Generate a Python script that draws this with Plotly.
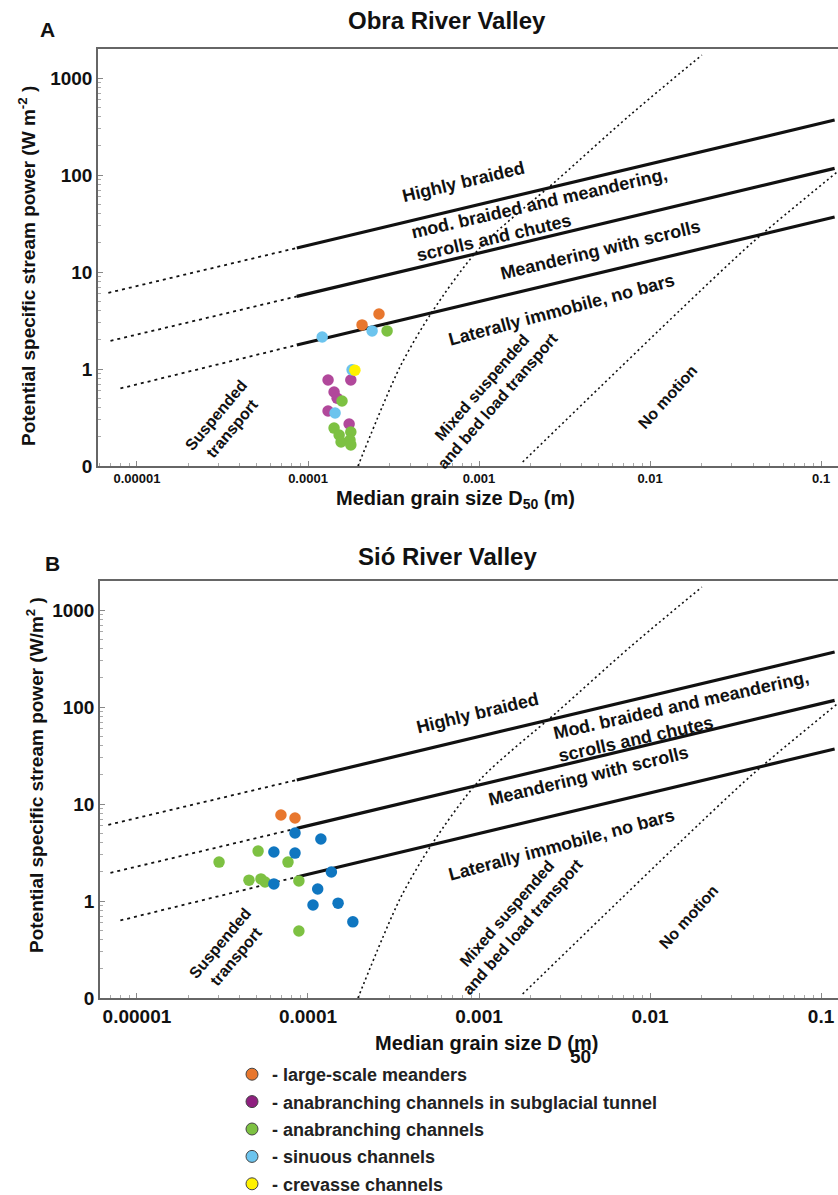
import plotly.graph_objects as go

# ---------------- data ----------------
# Panel A - Obra River Valley: median grain size D50 (m), stream power (W m-2)
OBRA_MEANDER_D = [2.07e-4, 2.60e-4]
OBRA_MEANDER_W = [2.85, 3.69]
OBRA_TUNNEL_D = [1.31e-4, 1.78e-4, 1.42e-4, 1.48e-4, 1.31e-4, 1.74e-4]
OBRA_TUNNEL_W = [0.77, 0.77, 0.58, 0.50, 0.369, 0.271]
OBRA_ANAB_D = [2.90e-4, 1.58e-4, 1.42e-4, 1.52e-4, 1.78e-4, 1.56e-4, 1.76e-4, 1.78e-4]
OBRA_ANAB_W = [2.47, 0.468, 0.246, 0.209, 0.224, 0.177, 0.185, 0.165]
OBRA_SINU_D = [1.21e-4, 2.37e-4, 1.81e-4, 1.44e-4]
OBRA_SINU_W = [2.14, 2.47, 0.98, 0.352]
OBRA_CREV_D = [1.88e-4]
OBRA_CREV_W = [0.97]

# Panel B - Sió River Valley
SIO_MEANDER_D = [6.95e-5, 8.40e-5]
SIO_MEANDER_W = [7.71, 7.18]
SIO_ANAB_D = [3.02e-5, 5.11e-5, 7.64e-5, 4.52e-5, 5.31e-5, 5.61e-5, 8.85e-5, 8.85e-5]
SIO_ANAB_W = [2.52, 3.27, 2.52, 1.64, 1.69, 1.57, 1.61, 0.49]
SIO_CHAN_D = [8.40e-5, 1.19e-4, 6.32e-5, 8.40e-5, 6.32e-5, 1.37e-4, 1.14e-4, 1.07e-4, 1.50e-4, 1.83e-4]
SIO_CHAN_W = [5.02, 4.36, 3.20, 3.12, 1.50, 1.99, 1.33, 0.91, 0.95, 0.61]

# Threshold lines: points [dotted start, solid start, solid end]
BRAID_D = [6.8e-6, 8.6e-5, 0.12]
BRAID_W = [6.1, 17.7, 369]
MOD_D = [7.0e-6, 8.6e-5, 0.12]
MOD_W = [1.95, 5.6, 117]
LOW_D = [8.0e-6, 8.6e-5, 0.12]
LOW_W = [0.63, 1.77, 36.9]

# Transport-mode boundaries
SUSP_D = [1.96e-4, 3.45e-4, 5.31e-4, 1.01e-3, 2.86e-3, 7.64e-3, 0.0201]
SUSP_W = [0.1, 1.05, 3.87, 17.7, 88.8, 415, 1726]
MOTION_D = [1.8e-3, 5.1e-3, 0.0150, 0.040, 0.124]
MOTION_W = [0.11, 0.65, 4.05, 20.4, 107]

Y_TICKS = [0.1, 1, 10, 100, 1000]
Y_TICKTEXT = ["0", "1", "10", "100", "1000"]
X_TICKS = [0.00001, 0.0001, 0.001, 0.01, 0.1]
X_TICKTEXT = ["0.00001", "0.0001", "0.001", "0.01", "0.1"]

LEGEND_NAMES = ["- large-scale meanders",
                "- anabranching channels in subglacial tunnel",
                "- anabranching channels",
                "- sinuous channels",
                "- crevasse channels"]
LEGEND_COLORS = ["#E8772E", "#8E1F7F", "#7DC142", "#6CC4EE", "#FFF200"]

# ---------------- styling ----------------
W, H = 838, 1195
FONT = "Liberation Sans, Arial, sans-serif"
ORANGE, MAGENTA, GREEN, LBLUE, YELLOW, DBLUE = "#E8772E", "#B1489B", "#7DC142", "#6CC4EE", "#FFF200", "#0F76C0"


def px(x):
    return x / W


def py(y):
    return 1 - y / H


fig = go.Figure()


def add_lines(xa, ya):
    for d, w in [(BRAID_D, BRAID_W), (MOD_D, MOD_W), (LOW_D, LOW_W)]:
        fig.add_trace(go.Scatter(x=d[:2], y=w[:2], mode="lines", xaxis=xa, yaxis=ya,
                                 line=dict(color="#111", width=1.8, dash="3px,4px"),
                                 showlegend=False, hoverinfo="skip"))
        fig.add_trace(go.Scatter(x=d[1:], y=w[1:], mode="lines", xaxis=xa, yaxis=ya,
                                 line=dict(color="#111", width=3.2),
                                 showlegend=False, hoverinfo="skip"))
    for d, w in [(SUSP_D, SUSP_W), (MOTION_D, MOTION_W)]:
        fig.add_trace(go.Scatter(x=d, y=w, mode="lines", xaxis=xa, yaxis=ya,
                                 line=dict(color="#111", width=1.6, dash="2px,3px", shape="spline",
                                           smoothing=0.8),
                                 showlegend=False, hoverinfo="skip"))


def add_pts(d, w, color, xa, ya):
    fig.add_trace(go.Scatter(x=d, y=w, mode="markers", xaxis=xa, yaxis=ya,
                             marker=dict(size=11.5, color=color, line=dict(width=0)),
                             showlegend=False))


add_lines("x", "y")
add_pts(OBRA_TUNNEL_D, OBRA_TUNNEL_W, MAGENTA, "x", "y")
add_pts(OBRA_ANAB_D, OBRA_ANAB_W, GREEN, "x", "y")
add_pts(OBRA_MEANDER_D, OBRA_MEANDER_W, ORANGE, "x", "y")
add_pts(OBRA_SINU_D, OBRA_SINU_W, LBLUE, "x", "y")
add_pts(OBRA_CREV_D, OBRA_CREV_W, YELLOW, "x", "y")

add_lines("x2", "y2")
add_pts(SIO_ANAB_D, SIO_ANAB_W, GREEN, "x2", "y2")
add_pts(SIO_CHAN_D, SIO_CHAN_W, DBLUE, "x2", "y2")
add_pts(SIO_MEANDER_D, SIO_MEANDER_W, ORANGE, "x2", "y2")

# legend entries
for i, (name, col) in enumerate(zip(LEGEND_NAMES, LEGEND_COLORS)):
    fig.add_trace(go.Scatter(x=[None], y=[None], mode="markers", name=name,
                             legendgroup=f"g{i}",
                             marker=dict(size=12, color=col, line=dict(width=1, color="#444"))))

minor_x = [m * 10 ** e for e in range(-6, 0) for m in range(2, 10)]
minor_y = [m * 10 ** e for e in range(-1, 4) for m in range(2, 10)]


def xax(domain, rng, fs):
    return dict(type="log", domain=domain, range=rng, showline=True, linecolor="#666", linewidth=1.5,
                mirror=True, ticks="inside", ticklen=5, tickcolor="#888", tickwidth=1,
                tickmode="array", tickvals=X_TICKS, ticktext=X_TICKTEXT,
                tickfont=dict(family=FONT, size=fs, color="#111", weight="bold"),
                showgrid=False, zeroline=False,
                minor=dict(ticks="inside", ticklen=3, tickcolor="#aaa", tickmode="array",
                           tickvals=minor_x, showgrid=False))


def yax(domain, anchor, fs):
    return dict(type="log", domain=domain, range=[-1, 3.299], anchor=anchor, showline=True,
                linecolor="#666", linewidth=1.5, mirror=False, ticks="inside", ticklen=5,
                tickcolor="#888", tickwidth=1, tickmode="array", tickvals=Y_TICKS,
                ticktext=Y_TICKTEXT,
                tickfont=dict(family=FONT, size=fs, color="#111", weight="bold"),
                showgrid=False, zeroline=False,
                minor=dict(ticks="inside", ticklen=3, tickcolor="#aaa", tickmode="array",
                           tickvals=minor_y, showgrid=False))


fig.update_layout(
    width=W, height=H, margin=dict(l=0, r=0, t=0, b=0, autoexpand=False),
    paper_bgcolor="white", plot_bgcolor="white",
    font=dict(family=FONT, color="#111"),
    xaxis=dict(xax([px(98), 1], [-5.228, -0.901], 13), anchor="y"),
    yaxis=yax([py(466), py(49)], "x", 19),
    xaxis2=dict(xax([px(100), 1], [-5.216, -0.901], 19), anchor="y2"),
    yaxis2=yax([py(998), py(581)], "x2", 19),
    showlegend=True,
    legend=dict(x=px(232), y=py(1056), xanchor="left", yanchor="top",
                font=dict(family=FONT, size=18, color="#222", weight="bold"),
                tracegroupgap=1, bgcolor="rgba(0,0,0,0)", itemclick=False),
)

ann = []


def text(t, x, y, size, angle=0, align="center", weight="bold", xanchor="center"):
    ann.append(dict(text=t, x=px(x), y=py(y), xref="paper", yref="paper", showarrow=False,
                    xanchor=xanchor, yanchor="middle", textangle=angle, align=align,
                    font=dict(family=FONT, size=size, color="#111", weight=weight)))


# titles
text("Obra River Valley", 447, 20, 24)
text("A", 47, 29, 21)
text("Sió River Valley", 447, 556, 24)
text("B", 52, 563, 21)

# axis titles
text("Median grain size D<sub>50</sub> (m)", 455, 499, 20)
text("Potential specific stream power (W m<sup>-2</sup> )", 27, 266, 19, angle=-90)
text("Median grain size D (m)", 373, 1043, 20, xanchor="left")
text("50", 580, 1056, 19)
text("Potential specific stream power (W/m<sup>2</sup> )", 35, 775, 19, angle=-90)

# region labels A
text("Highly braided", 463, 182, 18, -13.5)
text("mod. braided and meandering,<br>scrolls and chutes", 542, 215, 18, -13, align="left")
text("Meandering with scrolls", 600, 250, 18, -13.5)
text("Laterally immobile, no bars", 561, 310, 18, -15)
text("Suspended<br>transport", 224, 422, 16, -50)
text("Mixed suspended<br>and bed load transport", 490, 394, 16, -49)
text("No motion", 667, 397, 16, -48)

# region labels B
text("Highly braided", 478, 713, 18, -13.5)
text("Mod. braided and meandering,<br>scrolls and chutes", 683, 716, 18, -12.5, align="left")
text("Meandering with scrolls", 588, 776, 18, -13.5)
text("Laterally immobile, no bars", 561, 845, 18, -15)
text("Suspended<br>transport", 228, 950, 16, -50)
text("Mixed suspended<br>and bed load transport", 515, 920, 16, -49)
text("No motion", 688, 917, 16, -48)

fig.update_layout(annotations=ann)
fig.write_html("out.html", config={"displayModeBar": False},
               post_script="document.body.style.margin='0px';document.body.style.overflow='hidden';")
